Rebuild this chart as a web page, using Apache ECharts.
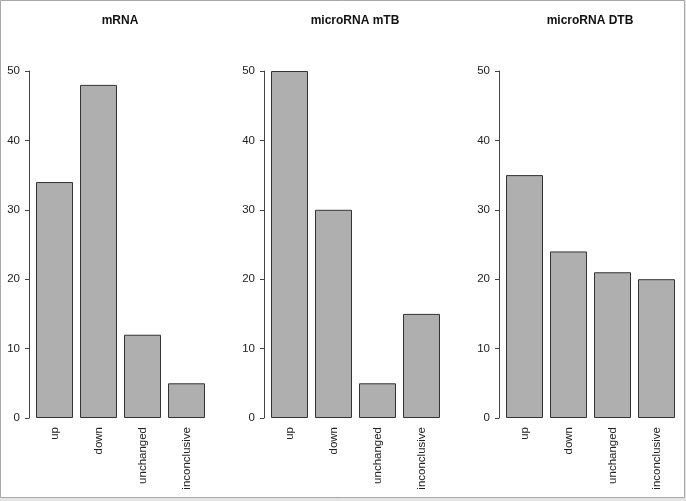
<!DOCTYPE html>
<html><head><meta charset="utf-8">
<script src="https://cdn.jsdelivr.net/npm/echarts@6/dist/echarts.min.js"></script>
<style>html,body{margin:0;padding:0;background:#fff}#c{width:686px;height:501px}</style>
</head><body><div id="c"></div>
<script>
const categories = ['up', 'down', 'unchanged', 'inconclusive'];
const titles = ['mRNA', 'microRNA mTB', 'microRNA DTB'];
const mRNA = [34, 48, 12, 5];
const microRNA_mTB = [50, 30, 5, 15];
const microRNA_DTB = [35, 24, 21, 20];
const yTicks = [0, 10, 20, 30, 40, 50];

const seriesData = [mRNA, microRNA_mTB, microRNA_DTB];
const panelLeft = [32.5, 267.5, 502.5];
const font = 'Liberation Sans, Arial, sans-serif';

const option = {
  backgroundColor: '#e4e4e4',
  animation: false,
  graphic: [{
    type: 'rect', z: -100, silent: true,
    shape: { x: 0.5, y: 0.5, width: 684, height: 497 },
    style: { fill: '#ffffff', stroke: '#a8a8a8', lineWidth: 1 }
  }],
  title: titles.map((t, i) => ({
    text: t, padding: 0,
    left: panelLeft[i] - 3.5 + 91, top: 15, textAlign: 'center',
    textStyle: { fontFamily: font, fontSize: 12, fontWeight: 'bold', color: '#111' }
  })),
  grid: panelLeft.map(l => ({ left: l, width: 176, top: 71, bottom: 83 })),
  xAxis: panelLeft.map((l, i) => ({
    type: 'category', gridIndex: i, data: categories, boundaryGap: true,
    axisLine: { show: false }, axisTick: { show: false },
    axisLabel: { rotate: 90, margin: 9, fontFamily: font, fontSize: 11.5, color: '#222', interval: 0 }
  })),
  yAxis: panelLeft.map((l, i) => ({
    type: 'value', gridIndex: i, min: 0, max: 50, interval: 10, offset: 3.5,
    splitLine: { show: false },
    axisLine: { show: true, lineStyle: { color: '#444', width: 1 } },
    axisTick: { show: true, length: 4, lineStyle: { color: '#444' } },
    axisLabel: { margin: 9, fontFamily: font, fontSize: 11.5, color: '#222',
      formatter: v => yTicks.includes(v) ? String(v) : '' }
  })),
  series: seriesData.map((d, i) => ({
    type: 'bar', xAxisIndex: i, yAxisIndex: i, data: d, barWidth: 37,
    itemStyle: { color: '#afafaf', borderColor: '#333', borderWidth: 1 }
  }))
};
echarts.init(document.getElementById('c')).setOption(option);
</script></body></html>
